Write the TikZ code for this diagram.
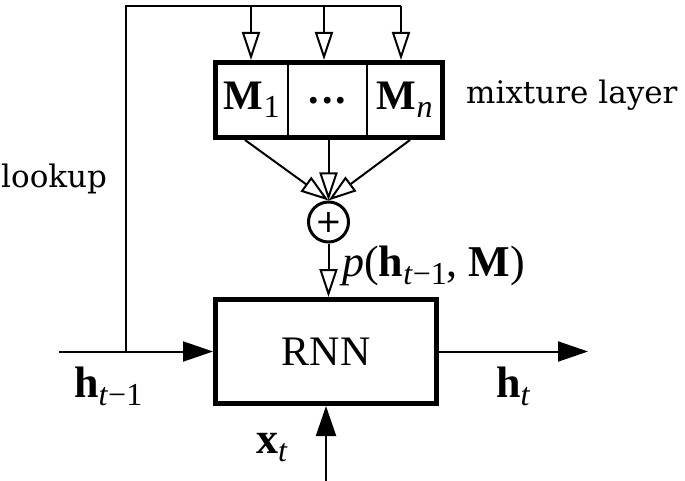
\documentclass[tikz,border=0pt]{standalone}
\usepackage{fontspec}
\setmainfont{Liberation Serif}
\newfontfamily\dejaserif{DejaVu Serif}
\newfontfamily\dejasans{DejaVu Sans}
\usetikzlibrary{arrows.meta,fit}
\newcommand\sbs[1]{\raisebox{-8pt}{\fontsize{32}{32}\selectfont #1}}
\begin{document}
\begin{tikzpicture}[x=1pt,y=-1pt,
  thinline/.style={line width=2pt},
  openarr/.style={thinline,-{Triangle[open,length=28pt,width=18pt]}},
  fullarr/.style={thinline,-{Triangle[length=30pt,width=20pt]}},
  cell/.style={draw,thinline,rectangle,minimum height=75pt,outer sep=0pt,inner sep=0pt,font=\fontsize{42}{50}\selectfont},
  bigbox/.style={draw,line width=5pt,rectangle,inner sep=0pt},
  lbl/.style={anchor=base west,inner sep=0pt,font=\fontsize{44}{52}\selectfont},
  side/.style={anchor=base west,inner sep=0pt,font=\dejaserif\fontsize{31}{37}\selectfont}]
\useasboundingbox (0,0) rectangle (685,481);

% mixture layer cells
\node[cell,minimum width=72.5pt] (m1) at (251.75,100) {\textbf{M}\sbs{1}};
\node[cell,minimum width=79pt] (md) at (327.5,100) {\raisebox{-8pt}{\textbf{.\kern3pt.\kern3pt.}}};
\node[cell,minimum width=75.5pt] (mn) at (404.75,100) {\textbf{M}\sbs{\textit{n}}};
\node[bigbox,fit=(m1)(mn)] (mix) {};

% RNN and sum
\node[draw,line width=5pt,minimum width=221pt,minimum height=104pt,inner sep=0pt,font=\fontsize{42}{50}\selectfont] (rnn) at (326,351.5) {RNN};
\node[circle,draw,line width=3pt,minimum size=40pt,inner sep=0pt,font=\dejasans\fontsize{32}{36}\selectfont] (sum) at (328.5,222) {+};

% coordinates
\coordinate (hin) at (59,351.5);
\coordinate (j) at (126,351.5);
\coordinate (d1) at (251,6);
\coordinate (d2) at (324,6);
\coordinate (d3) at (401,6);
\coordinate (s1) at (245,140);
\coordinate (s2) at (328.5,140);
\coordinate (s3) at (410,140);
\coordinate (hout) at (588,351.5);
\coordinate (xin) at (326,481);

% connectors
\draw[thinline] (j) -- (j |- d3) -- (d3);
\draw[openarr] (d1) -- (d1 |- mix.north);
\draw[openarr] (d2) -- (d2 |- mix.north);
\draw[openarr] (d3) -- (d3 |- mix.north);
\draw[openarr] (s1) -- (sum.north);
\draw[openarr] (s2) -- (sum.north);
\draw[openarr] (s3) -- (sum.north);
\draw[openarr] (sum.south) -- (sum.south |- rnn.north);
\draw[fullarr] (hin) -- (rnn.west);
\draw[fullarr] (rnn.east) -- (hout);
\draw[fullarr] (xin) -- (xin |- rnn.south);

% labels
\node[side] (lk) at (1,188) {lookup};
\node[side] (ml) at (466,104) {mixture layer};
\node[lbl] (pl) at (342,276) {\textit{p}(\textbf{h}\sbs{\textit{t}−1}, \textbf{M})};
\node[lbl] (hl) at (74,397) {\textbf{h}\sbs{\textit{t}−1}};
\node[lbl] (hr) at (496,397) {\textbf{h}\sbs{\textit{t}}};
\node[lbl] (xl) at (256,453) {\textbf{x}\sbs{\textit{t}}};
\end{tikzpicture}
\end{document}
